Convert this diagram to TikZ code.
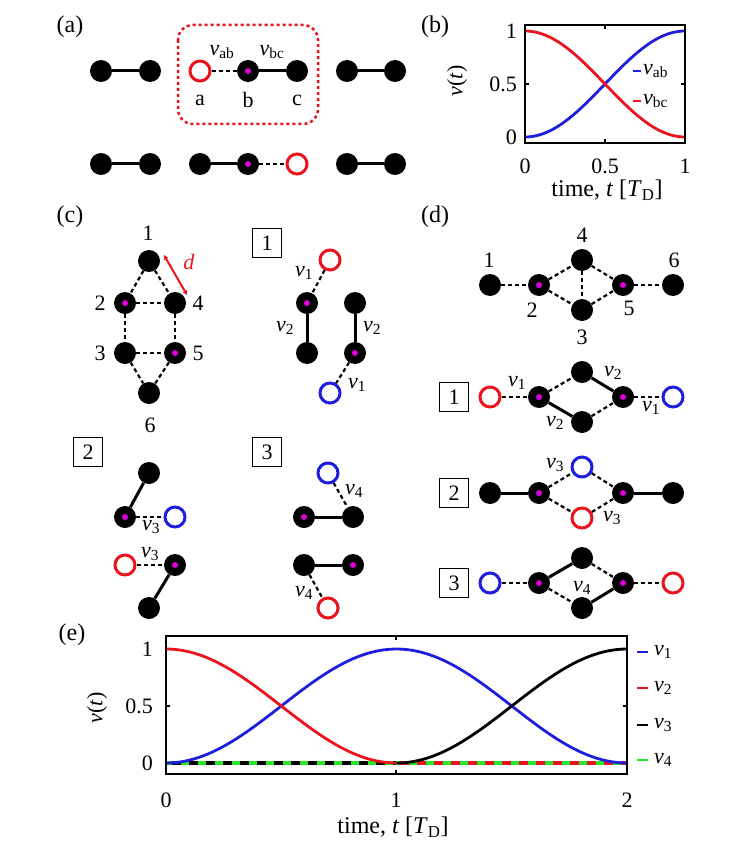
\documentclass[tikz,border=0pt]{standalone}
\usepackage{fontspec}
\setmainfont{Liberation Serif}
\usetikzlibrary{arrows.meta}
\definecolor{myred}{RGB}{235,20,30}
\definecolor{myblue}{RGB}{30,30,220}
\definecolor{mymag}{RGB}{220,0,220}
\definecolor{mygreen}{RGB}{40,230,40}
\newcommand\fsz{\fontsize{22}{26}\selectfont}
\newcommand\fbig{\fontsize{24}{28}\selectfont}
\newcommand\myv[1]{\textit{v}\textsubscript{#1}}
\begin{document}
\begin{tikzpicture}[x=1pt,y=-1pt,font=\fsz,
  fnode/.style={circle,fill=black,minimum size=22pt,inner sep=0pt},
  mnode/.style={fnode,path picture={\fill[mymag] (path picture bounding box.center) circle (3pt);}},
  rnode/.style={circle,draw=myred,fill=white,line width=3pt,minimum size=20pt,inner sep=0pt},
  bnode/.style={rnode,draw=myblue},
  sol/.style={line width=3pt},
  dsh/.style={line width=2.2pt,dash pattern=on 4pt off 3pt},
  lbl/.style={inner sep=0pt},
  plbl/.style={inner sep=0pt,font=\fbig},
  numbox/.style={draw,line width=1.5pt,minimum size=29pt,inner sep=0pt},
  curve/.style={line width=2.8pt},
  zline/.style={line width=3.5pt},
  frame/.style={line width=2pt},
  tick/.style={line width=1.5pt},
]
\useasboundingbox (0,0) rectangle (753,853);

% ---------------- (a)
\node[plbl] (la) at (70,27) {(a)};
\draw[myred,line width=2.5pt,dash pattern=on 3pt off 3pt,rounded corners=15pt] (178,25) rectangle (318,124);
\node[fnode] (a1) at (101,71) {};
\node[fnode] (a2) at (150,71) {};
\node[rnode] (aa) at (200,71) {};
\node[mnode] (ab) at (248,71) {};
\node[fnode] (ac) at (297,71) {};
\node[fnode] (a3) at (347,71) {};
\node[fnode] (a4) at (395,71) {};
\draw[sol] (a1) -- (a2);
\draw[dsh] (aa) -- (ab);
\draw[sol] (ab) -- (ac);
\draw[sol] (a3) -- (a4);
\node[lbl] (tvab) at (222,52) {\myv{ab}};
\node[lbl] (tvbc) at (272,52) {\myv{bc}};
\node[lbl] (ta) at (200,100) {a};
\node[lbl] (tb) at (248,100) {b};
\node[lbl] (tc) at (297,100) {c};
\node[fnode] (b1) at (101,164) {};
\node[fnode] (b2) at (150,164) {};
\node[fnode] (b3) at (200,164) {};
\node[mnode] (b4) at (248,164) {};
\node[rnode] (b5) at (297,164) {};
\node[fnode] (b6) at (347,164) {};
\node[fnode] (b7) at (395,164) {};
\draw[sol] (b1) -- (b2);
\draw[sol] (b3) -- (b4);
\draw[dsh] (b4) -- (b5);
\draw[sol] (b6) -- (b7);

% ---------------- (b)
\node[plbl] (lb) at (435,27) {(b)};
\draw[myblue,curve] plot[domain=0:1,samples=60] ({525+160*\x},{137-106*sin(90*\x)*sin(90*\x)});
\draw[myred,curve] plot[domain=0:1,samples=60] ({525+160*\x},{137-106*cos(90*\x)*cos(90*\x)});
\draw[frame] (525,25) rectangle (685,143);
\draw[tick] (605,25) -- (605,29) (605,143) -- (605,139) (525,84) -- (529,84) (685,84) -- (681,84);
\node[lbl,anchor=east] (by1) at (517,31) {1};
\node[lbl,anchor=east] (by2) at (517,84) {0.5};
\node[lbl,anchor=east] (by0) at (517,137) {0};
\node[lbl] (bx0) at (525,166) {0};
\node[lbl] (bx1) at (605,166) {0.5};
\node[lbl] (bx2) at (685,166) {1};
\node[plbl] (bxl) at (607,190) {time, \textit{t} [\textit{T}\textsubscript{D}]};
\node[lbl,rotate=90] (byl) at (457,81) {\textit{v}(\textit{t})};
\draw[myblue,line width=2.5pt] (633,71) -- (641,71);
\node[lbl,anchor=west] (blab) at (643,71) {\myv{ab}};
\draw[myred,line width=2.5pt] (633,101) -- (641,101);
\node[lbl,anchor=west] (blbc) at (643,101) {\myv{bc}};

% ---------------- (c)
\node[plbl] (lc) at (70,217) {(c)};
\node[fnode] (c1) at (149,261) {};
\node[mnode] (c2) at (125,303) {};
\node[fnode] (c4) at (175,303) {};
\node[fnode] (c3) at (125,353) {};
\node[mnode] (c5) at (175,353) {};
\node[fnode] (c6) at (149,393) {};
\draw[dsh] (c1) -- (c2);
\draw[dsh] (c1) -- (c4);
\draw[dsh] (c2) -- (c4);
\draw[dsh] (c2) -- (c3);
\draw[dsh] (c4) -- (c5);
\draw[dsh] (c3) -- (c5);
\draw[dsh] (c3) -- (c6);
\draw[dsh] (c5) -- (c6);
\node[lbl] (tc1) at (148,233) {1};
\node[lbl] (tc2) at (100,303) {2};
\node[lbl] (tc4) at (198,303) {4};
\node[lbl] (tc3) at (100,353) {3};
\node[lbl] (tc5) at (198,353) {5};
\node[lbl] (tc6) at (150,425) {6};
\coordinate (dA) at (164,255);
\coordinate (dB) at (187,295);
\draw[myred,line width=2pt,{Stealth[length=5pt,width=5pt]}-{Stealth[length=5pt,width=5pt]}] (dA) -- (dB);
\node[lbl,myred] (td) at (189,262) {\textit{d}};

\node[numbox] (bxc1) at (267,243) {1};
\node[rnode] (ca) at (330,260) {};
\node[mnode] (cb) at (307,303) {};
\node[fnode] (cc) at (307,353) {};
\node[fnode] (cd) at (355,303) {};
\node[mnode] (ce) at (355,353) {};
\node[bnode] (cf) at (330,393) {};
\draw[dsh] (ca) -- (cb);
\draw[sol] (cb) -- (cc);
\draw[sol] (cd) -- (ce);
\draw[dsh] (ce) -- (cf);
\node[lbl] (tca) at (304,273) {\myv{1}};
\node[lbl] (tcb) at (285,328) {\myv{2}};
\node[lbl] (tcc) at (372,328) {\myv{2}};
\node[lbl] (tcd) at (357,385) {\myv{1}};

\node[numbox] (bxc2) at (88,452) {2};
\node[fnode] (cg) at (149,473) {};
\node[mnode] (ch) at (125,517) {};
\node[bnode] (ci) at (175,517) {};
\node[rnode] (cj) at (125,565) {};
\node[mnode] (ck) at (175,565) {};
\node[fnode] (cl) at (149,608) {};
\draw[sol] (cg) -- (ch);
\draw[dsh] (ch) -- (ci);
\draw[dsh] (cj) -- (ck);
\draw[sol] (ck) -- (cl);
\node[lbl] (tce) at (151,527) {\myv{3}};
\node[lbl] (tcf) at (150,554) {\myv{3}};

\node[numbox] (bxc3) at (267,452) {3};
\node[bnode] (cm) at (328,473) {};
\node[mnode] (cn) at (304,517) {};
\node[fnode] (co) at (353,517) {};
\node[fnode] (cp) at (304,565) {};
\node[mnode] (cq) at (353,565) {};
\node[rnode] (cr) at (328,608) {};
\draw[dsh] (cm) -- (co);
\draw[sol] (cn) -- (co);
\draw[sol] (cp) -- (cq);
\draw[dsh] (cp) -- (cr);
\node[lbl] (tcg) at (354,491) {\myv{4}};
\node[lbl] (tch) at (304,593) {\myv{4}};

% ---------------- (d)
\node[plbl] (ld) at (435,217) {(d)};
\node[fnode] (d1) at (490,285) {};
\node[mnode] (d2) at (539,285) {};
\node[fnode] (d4) at (582,260) {};
\node[fnode] (d3) at (582,310) {};
\node[mnode] (d5) at (623,285) {};
\node[fnode] (d6) at (673,285) {};
\draw[dsh] (d1) -- (d2);
\draw[dsh] (d2) -- (d4);
\draw[dsh] (d2) -- (d3);
\draw[dsh] (d4) -- (d3);
\draw[dsh] (d4) -- (d5);
\draw[dsh] (d3) -- (d5);
\draw[dsh] (d5) -- (d6);
\node[lbl] (td1) at (489,260) {1};
\node[lbl] (td2) at (532,310) {2};
\node[lbl] (td4) at (582,235) {4};
\node[lbl] (td3) at (582,337) {3};
\node[lbl] (td5) at (629,308) {5};
\node[lbl] (td6) at (674,260) {6};

\node[numbox] (bxd1) at (454,397) {1};
\node[rnode] (e1) at (490,397) {};
\node[mnode] (e2) at (539,397) {};
\node[fnode] (e4) at (582,372) {};
\node[fnode] (e3) at (582,422) {};
\node[mnode] (e5) at (623,397) {};
\node[bnode] (e6) at (673,397) {};
\draw[dsh] (e1) -- (e2);
\draw[dsh] (e2) -- (e4);
\draw[sol] (e2) -- (e3);
\draw[sol] (e4) -- (e5);
\draw[dsh] (e3) -- (e5);
\draw[dsh] (e5) -- (e6);
\node[lbl] (te1) at (517,383) {\myv{1}};
\node[lbl] (te2) at (613,373) {\myv{2}};
\node[lbl] (te3) at (555,423) {\myv{2}};
\node[lbl] (te4) at (651,408) {\myv{1}};

\node[numbox] (bxd2) at (454,493) {2};
\node[fnode] (f1) at (490,493) {};
\node[mnode] (f2) at (539,493) {};
\node[bnode] (f4) at (582,467) {};
\node[rnode] (f3) at (582,518) {};
\node[mnode] (f5) at (623,493) {};
\node[fnode] (f6) at (673,493) {};
\draw[sol] (f1) -- (f2);
\draw[dsh] (f2) -- (f4);
\draw[dsh] (f2) -- (f3);
\draw[dsh] (f4) -- (f5);
\draw[dsh] (f3) -- (f5);
\draw[sol] (f5) -- (f6);
\node[lbl] (tf1) at (555,465) {\myv{3}};
\node[lbl] (tf2) at (612,518) {\myv{3}};

\node[numbox] (bxd3) at (454,583) {3};
\node[bnode] (g1) at (490,583) {};
\node[mnode] (g2) at (539,583) {};
\node[fnode] (g4) at (582,558) {};
\node[fnode] (g3) at (582,608) {};
\node[mnode] (g5) at (623,583) {};
\node[rnode] (g6) at (673,583) {};
\draw[dsh] (g1) -- (g2);
\draw[sol] (g2) -- (g4);
\draw[dsh] (g2) -- (g3);
\draw[dsh] (g4) -- (g5);
\draw[sol] (g3) -- (g5);
\draw[dsh] (g5) -- (g6);
\node[lbl] (tg1) at (582,588) {\myv{4}};

% ---------------- (e)
\node[plbl] (le) at (72,635) {(e)};
\draw[mygreen,zline] (166,763) -- (627,763);
\draw[black,zline,dash pattern=on 9pt off 8pt] (172,763) -- (396,763);
\draw[myred,zline,dash pattern=on 9pt off 8pt] (400,763) -- (627,763);
\draw[myblue,curve] plot[domain=0:2,samples=100] ({166+230.5*\x},{763-114*sin(90*\x)*sin(90*\x)});
\draw[myred,curve] plot[domain=0:1,samples=60] ({166+230.5*\x},{763-114*cos(90*\x)*cos(90*\x)});
\draw[black,curve] plot[domain=1:2,samples=60] ({166+230.5*\x},{763-114*sin(90*(\x-1))*sin(90*(\x-1))});
\draw[frame] (166,636) rectangle (627,774);
\draw[tick] (396,636) -- (396,640) (396,774) -- (396,770) (166,706) -- (170,706) (627,706) -- (623,706);
\node[lbl,anchor=east] (ey1) at (153,649) {1};
\node[lbl,anchor=east] (ey2) at (153,706) {0.5};
\node[lbl,anchor=east] (ey0) at (153,763) {0};
\node[lbl] (ex0) at (166,800) {0};
\node[lbl] (ex1) at (396,800) {1};
\node[lbl] (ex2) at (627,800) {2};
\node[plbl] (exl) at (393,827) {time, \textit{t} [\textit{T}\textsubscript{D}]};
\node[lbl,rotate=90] (eyl) at (97,708) {\textit{v}(\textit{t})};
\draw[myblue,line width=2.8pt] (637,652) -- (648,652);
\node[lbl,anchor=west] (el1) at (654,652) {\myv{1}};
\draw[myred,line width=2.8pt] (637,688) -- (648,688);
\node[lbl,anchor=west] (el2) at (654,688) {\myv{2}};
\draw[black,line width=2.8pt] (637,725) -- (648,725);
\node[lbl,anchor=west] (el3) at (654,725) {\myv{3}};
\draw[mygreen,line width=2.8pt] (637,760) -- (648,760);
\node[lbl,anchor=west] (el4) at (654,760) {\myv{4}};
\end{tikzpicture}
\end{document}
